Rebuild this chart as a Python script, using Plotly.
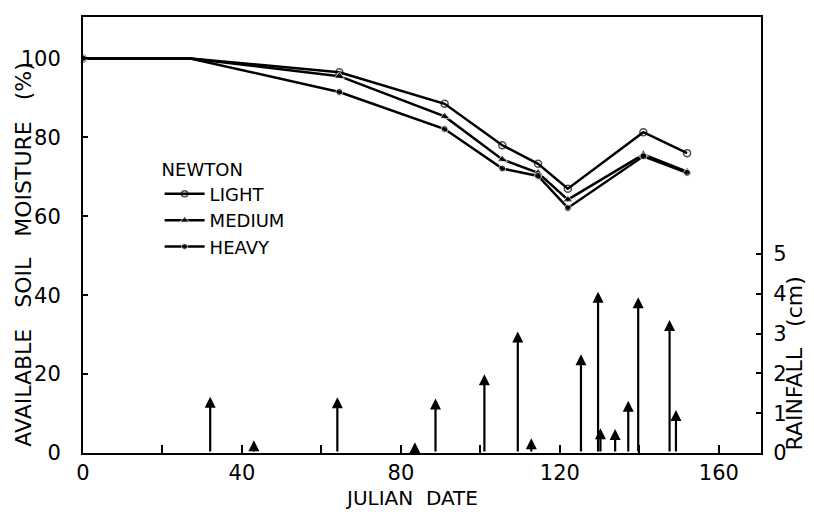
import plotly.graph_objects as go

# ---- data ----
julian_dates = [0, 27, 64.5, 91, 105.5, 114.5, 122, 141, 152]
light = [100, 100, 96.5, 88.5, 78.0, 73.3, 67.0, 81.3, 76.0]
medium = [100, 100, 95.5, 85.3, 74.4, 71.0, 64.2, 75.7, 71.3]
heavy = [100, 100, 91.5, 82.1, 72.1, 70.2, 62.1, 75.2, 71.0]

rain_dates = [32, 43, 64, 83.5, 88.7, 101, 109.4, 112.8, 125.3, 129.6, 130.2,
              133.9, 137.2, 139.7, 147.6, 149.2]
rain_cm = [1.41, 0.32, 1.40, 0.27, 1.37, 1.98, 3.05, 0.37, 2.48, 4.05, 0.62,
           0.60, 1.31, 3.91, 3.34, 1.08]

x_ticks = [0, 20, 40, 60, 80, 100, 120, 140, 160]
x_ticktext = ["0", "", "40", "", "80", "", "120", "", "160"]
y_ticks = [0, 20, 40, 60, 80, 100]
rain_ticks = [0, 1, 2, 3, 4, 5]

Y_MAX = 110.5
Y2_MAX = Y_MAX * 3.944 / 39.8
FONT = "DejaVu Sans"


def gap(n):
    return "\u00a0" * n


fig = go.Figure()

marker_sizes = [7, 0, 7, 7, 7, 7, 7, 7, 7]
tri_sizes = [9, 0, 9, 9, 9, 9, 9, 9, 9]
series = [
    ("LIGHT", light, dict(symbol="circle-open", size=marker_sizes, color="black",
                          line=dict(width=1.5, color="black"))),
    ("MEDIUM", medium, dict(symbol="triangle-up", size=tri_sizes, color="black")),
    ("HEAVY", heavy, dict(symbol="circle", size=marker_sizes, color="black")),
]
for name, vals, mk in series:
    fig.add_trace(go.Scatter(
        x=julian_dates, y=vals, name=name, mode="lines+markers",
        line=dict(color="black", width=2.5), marker=mk, yaxis="y",
    ))

# invisible trace to activate secondary axis
fig.add_trace(go.Scatter(x=rain_dates, y=rain_cm, yaxis="y2", mode="markers",
                         marker=dict(size=0.1, color="rgba(0,0,0,0)"),
                         showlegend=False, hoverinfo="skip"))

annotations = []
for xd, h in zip(rain_dates, rain_cm):
    annotations.append(dict(
        x=xd, y=h, xref="x", yref="y2", ax=xd, ay=0, axref="x", ayref="y2",
        text="", showarrow=True, arrowhead=2, arrowsize=1.0, arrowwidth=2.2,
        arrowcolor="black", standoff=0, startstandoff=0,
    ))

title_font = dict(family=FONT, size=22, color="black")
annotations += [
    dict(text="AVAILABLE" + gap(3) + "SOIL" + gap(3) + "MOISTURE" + gap(3) + "(%)",
         xref="paper", yref="paper", x=-0.087, y=0.455, textangle=-90,
         showarrow=False, xanchor="center", yanchor="middle", font=title_font),
    dict(text="RAINFALL" + gap(3) + "(cm)", xref="paper", yref="paper",
         x=1.05, y=0.205, textangle=-90, showarrow=False,
         xanchor="center", yanchor="middle", font=title_font),
    dict(text="JULIAN" + gap(2) + "DATE", xref="paper", yref="paper",
         x=0.485, y=-0.104, showarrow=False, xanchor="center", yanchor="middle",
         borderpad=0, font=dict(family=FONT, size=20, color="black")),
]

fig.update_layout(
    width=814, height=512,
    margin=dict(l=83, r=53, t=17, b=59, autoexpand=False),
    paper_bgcolor="white", plot_bgcolor="white",
    font=dict(family=FONT, size=21, color="black"),
    showlegend=True,
    legend=dict(
        title=dict(text="NEWTON", font=dict(family=FONT, size=18, color="black")),
        x=0.113, y=0.69, xanchor="left", yanchor="top",
        bgcolor="rgba(0,0,0,0)", font=dict(family=FONT, size=18, color="black"),
        tracegroupgap=0, itemwidth=40,
    ),
    xaxis=dict(
        range=[0, 170.6], tickvals=x_ticks, ticktext=x_ticktext,
        ticks="inside", ticklen=8, tickwidth=1.5, tickcolor="black",
        showline=True, linecolor="black", linewidth=2, mirror=True,
        showgrid=False, zeroline=False, ticklabelstandoff=0, automargin=False,
    ),
    yaxis=dict(
        range=[0, Y_MAX], tickvals=y_ticks,
        ticks="inside", ticklen=5, tickwidth=1.5, tickcolor="black",
        showline=True, linecolor="black", linewidth=2,
        showgrid=False, zeroline=False, ticklabelstandoff=16, automargin=False,
    ),
    yaxis2=dict(
        range=[0, Y2_MAX], tickvals=rain_ticks, overlaying="y", side="right",
        ticks="inside", ticklen=5, tickwidth=1.5, tickcolor="black",
        showline=True, linecolor="black", linewidth=2,
        showgrid=False, zeroline=False, ticklabelstandoff=6, automargin=False,
    ),
    annotations=annotations,
)

fig.write_html("out.html", config={"displayModeBar": False},
               post_script="document.body.style.margin='0';")
